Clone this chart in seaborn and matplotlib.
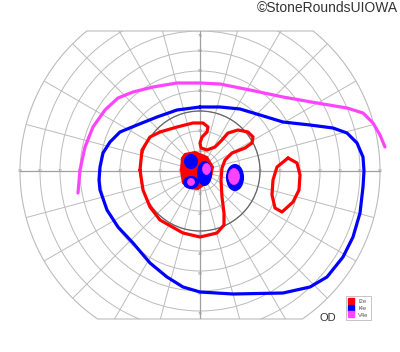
import numpy as np
import pandas as pd
import seaborn as sns
import matplotlib
matplotlib.use("Agg")
import matplotlib.pyplot as plt
from matplotlib.patches import Circle, Ellipse, Polygon
from matplotlib.lines import Line2D

# Isopter traces, degrees of visual field (x = temporal/nasal, y = superior/inferior)
v4e_x = [-61, -60, -57.5, -53.5, -47.5, -41, -33.5, -23.5, -11.5, 0, 10, 25, 41.5, 58.5, 73.5, 81.5, 86.5, 90, 92.5]
v4e_y = [-11, 0.5, 12, 22, 30.5, 36.5, 39.5, 42, 44, 44, 43.5, 40.5, 37, 34, 31.5, 29, 24, 18, 12]

i4e_x = [0, -11.5, -21.5, -31.5, -40, -45, -48.5, -50, -50.5, -50, -46.5, -41, -33.5, -25, -16.5, -8.5,
         0, 16.5, 41.5, 55, 63.5, 71.5, 76.5, 80, 81.5, 82, 81.5, 78.5, 73.5, 66.5, 55, 41.5, 30, 20, 10, 0]
i4e_y = [32, 30.5, 27, 23, 19.5, 14.5, 9, 2, -4.5, -9.5, -19.5, -28, -36, -46, -53, -58,
         -60.5, -61.5, -61, -58, -53, -43, -33, -21, -8, 0, 7, 14, 19, 21.5, 23, 24.5, 28, 31, 32, 32]

i2e_x = [-30, -29, -25, -20, -11.5, -3.5, 1.5, 4, 3.5, 1, 0, 0.5, 3.5, 7.5, 11, 14, 19, 24, 26.5, 26, 22.5,
         16, 12.5, 11, 10.5, 11, 12, 12, 8.5, 0, -8.5, -20, -25, -28.5, -30]
i2e_y = [0.5, 10.5, 17, 19.5, 22, 24, 24, 22, 19.5, 17, 14, 11.5, 10.5, 12, 15.5, 19, 20.5, 19.5, 17, 14, 11.5,
         9, 5.5, 1.5, -4.5, -13, -21, -27, -31, -33, -31, -24.5, -18, -9.5, 0.5]

i2e_island_x = [44, 48.5, 50, 49.5, 46.5, 41, 37.5, 36, 36.5, 38.5, 44]
i2e_island_y = [6.5, 4, -2, -9.5, -15.5, -20.5, -18.5, -12, -4.5, 2, 6.5]

# central I2e scotoma area (filled)
blob_x = [-7.5, -2.5, 3.5, 6.5, 5.5, 2.5, -1, -5, -8.5, -9.5, -9]
blob_y = [8.5, 9.5, 7, 2, -3, -6.5, -9, -8.5, -6, 0.5, 6.5]

# small I4e / V4e islands: centre x, centre y, width, height (degrees)
i4e_spots = [(-4.5, 4.75, 6, 6.5), (2.25, -1.25, 6.5, 11.5), (-4.5, -5.75, 7, 5.5), (17.5, -3.25, 8, 12.5)]
v4e_spots = [(3.25, 1, 4, 5.5), (-4.5, -5.5, 3.5, 3.5), (17, -2.75, 5.5, 8)]

h_ticks = [10, 20, 30, 40, 50, 60, 70, 80, 90]
v_ticks = [10, 20, 30, 40, 50, 60, 70]

RED = "#ff0000"
BLUE = "#0000ff"
MAG = "#ff44ff"

sns.set_style("white")
plt.rcParams['font.family'] = ['Liberation Sans', 'DejaVu Sans']

fig = plt.figure(figsize=(4, 3.52), dpi=100)
ax = fig.add_axes([0, 0, 1, 1])
ax.set_xlim(-100, 100)
ax.set_ylim(-90.5, 85.5)
ax.set_aspect("equal")
ax.axis("off")

# chart boundary: 90 deg circle cut at 70 superior / 74 inferior
t_top = np.degrees(np.arcsin(70 / 90))
t_bot = np.degrees(np.arcsin(-74 / 90))
th = np.concatenate([np.linspace(t_bot, t_top, 80), np.linspace(180 - t_top, 180 - t_bot, 80)])
bound = np.column_stack([90 * np.cos(np.radians(th)), 90 * np.sin(np.radians(th))])
clip = Polygon(bound, closed=True, transform=ax.transData, fill=False)
ax.add_patch(Polygon(bound, closed=True, fill=False, ec="#bbbbbb", lw=0.8, zorder=1))

grid_c = "#bbbbbb"
for r in range(10, 90, 10):
    c = Circle((0, 0), r, fill=False, ec=grid_c, lw=0.7, zorder=1)
    ax.add_patch(c)
    c.set_clip_path(clip)
for a in range(0, 360, 15):
    ln, = ax.plot([0, 95 * np.cos(np.radians(a))], [0, 95 * np.sin(np.radians(a))],
                  color=grid_c, lw=0.7, zorder=1)
    ln.set_clip_path(clip)
ax.plot([-90, 90], [0, 0], color="#a0a0a0", lw=0.9, zorder=1)
vl, = ax.plot([0, 0], [-80, 75], color="#a0a0a0", lw=0.9, zorder=1)
vl.set_clip_path(clip)
ax.add_patch(Circle((0, 0), 30, fill=False, ec="#666666", lw=0.9, zorder=1.5))

for t in h_ticks:
    for s in (-1, 1):
        ax.text(s * t, 0, str(t), fontsize=3.2, color="#999999", ha="center", va="center", zorder=1.2)
for t in v_ticks:
    yt = 67.5 if t == 70 else t
    ax.text(0, yt, str(t), fontsize=3.2, color="#999999", ha="center", va="center", zorder=1.2)
    ax.text(0, -t - 1.5, str(t), fontsize=3.2, color="#999999", ha="center", va="center", zorder=1.2)

# isopters
curves = [
    (v4e_x, v4e_y, MAG),
    (i4e_x, i4e_y, BLUE),
    (i2e_x, i2e_y, RED),
    (i2e_island_x, i2e_island_y, RED),
]
for cx, cy, col in curves:
    df = pd.DataFrame({"x": cx, "y": cy})
    sns.lineplot(data=df, x="x", y="y", sort=False, estimator=None, color=col, lw=2.3, ax=ax, zorder=3)
for ln in ax.lines[-4:]:
    ln.set_solid_joinstyle("round")
    ln.set_solid_capstyle("round")

ax.fill(blob_x, blob_y, color=RED, lw=1.5, ec=RED, zorder=3.5)
for x0, y0, w, h in i4e_spots:
    ax.add_patch(Ellipse((x0, y0), w, h, fc=BLUE, ec=BLUE, lw=1.5, zorder=4))
for x0, y0, w, h in v4e_spots:
    ax.add_patch(Ellipse((x0, y0), w, h, fc=MAG, ec=MAG, lw=0.5, zorder=4.5))

ax.set_xlabel("")
ax.set_ylabel("")

handles = [Line2D([], [], marker="s", ls="", color=c, markersize=5) for c in (RED, BLUE, MAG)]
leg = ax.legend(handles, ["I2e", "I4e", "V4e"], loc="lower right", bbox_to_anchor=(0.935, 0.083),
                fontsize=4.2, frameon=True, fancybox=False, handlelength=1.0, handletextpad=0.8,
                borderpad=0.4, labelspacing=0.3, edgecolor="#aaaaaa")
leg.get_frame().set_linewidth(0.6)
for txt in leg.get_texts():
    txt.set_color("#555555")

ax.text(64, -73.5, "OD", fontsize=8, color="#333333", ha="center", va="center")
ax.text(0.995, 0.976, "\u00a9StoneRoundsUIOWA", transform=ax.transAxes, fontsize=10,
        color="#333333", ha="right", va="center")

fig.savefig("out.png", dpi=100)
